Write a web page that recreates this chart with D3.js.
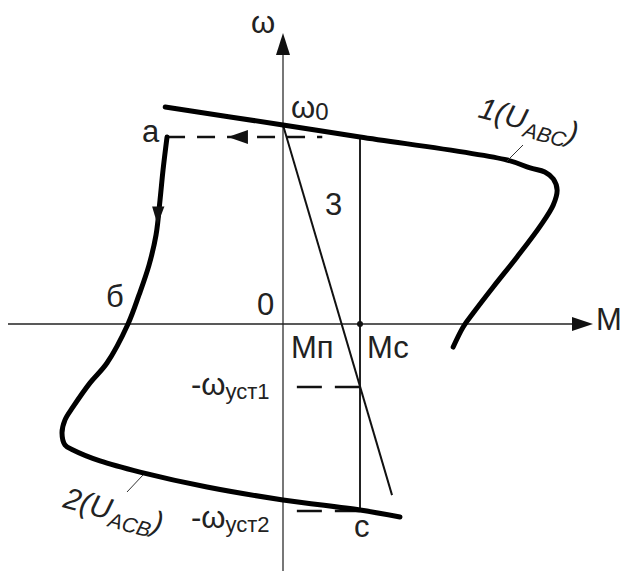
<!DOCTYPE html>
<html>
<head>
<meta charset="utf-8">
<script src="https://cdn.jsdelivr.net/npm/d3@7"></script>
<style>
  body { margin: 0; background: #fff; }
  text { font-family: "Liberation Sans", Arial, sans-serif; fill: #222; }
</style>
</head>
<body>
<div id="graph"></div>
<script>
const width = 622, height = 571;

// M in units of Mc, omega in units of omega0
const curve1 = [
    [-1.53, 1.09], [0, 1.0], [1, 0.94], [2.91, 0.824], [3.21, 0.784], [3.40, 0.764],
    [3.51, 0.729], [3.56, 0.673], [3.51, 0.598], [3.34, 0.492], [3.04, 0.337],
    [2.73, 0.186], [2.47, 0.055], [2.34, -0.015], [2.21, -0.116]
];
const curve2 = [
    [-1.506, 0.94], [-1.558, 0.774], [-1.597, 0.623], [-1.649, 0.447], [-1.74, 0.296],
    [-1.87, 0.146], [-2.013, 0], [-2.286, -0.196], [-2.506, -0.296], [-2.727, -0.417],
    [-2.831, -0.482], [-2.87, -0.548], [-2.831, -0.608], [-2.727, -0.633], [-2.377, -0.688],
    [-1.857, -0.744], [-0.987, -0.819], [0, -0.884], [1, -0.935], [1.519, -0.97]
];
const line3 = [[0, 1.0], [1.416, -0.86]];
const Mc = 1;
const wStart = 0.94;      // level of point a
const wUst1 = -0.317;
const wUst2 = -0.94;

let x = d3.scaleLinear().domain([0, 1]).range([283, 360]);
let y = d3.scaleLinear().domain([0, 1]).range([324, 125]);

let svg = d3.select("#graph")
    .append("svg")
    .attr("width", width)
    .attr("height", height);

let line = d3.line()
    .curve(d3.curveCatmullRom)
    .x(function(d) { return x(d[0]); })
    .y(function(d) { return y(d[1]); });

// axes
svg.append("line")
    .attr("x1", x(0)).attr("x2", x(0))
    .attr("y1", height).attr("y2", 50)
    .attr("stroke", "#777").attr("stroke-width", 2);
svg.append("path")
    .attr("d", `M${x(0)},33 L${x(0) - 7},55 L${x(0) + 7},55 Z`)
    .attr("fill", "#111");

svg.append("line")
    .attr("x1", 8).attr("x2", 578)
    .attr("y1", y(0)).attr("y2", y(0))
    .attr("stroke", "#222").attr("stroke-width", 1.5);
svg.append("path")
    .attr("d", `M593,${y(0)} L572,${y(0) - 7} L572,${y(0) + 7} Z`)
    .attr("fill", "#111");

// Mc vertical
svg.append("line")
    .attr("x1", x(Mc)).attr("x2", x(Mc))
    .attr("y1", y(wStart)).attr("y2", y(-0.935))
    .attr("stroke", "#222").attr("stroke-width", 2);
svg.append("circle")
    .attr("cx", x(Mc)).attr("cy", y(0)).attr("r", 3)
    .attr("fill", "#111");

// dashed lines
svg.append("line")
    .attr("x1", x(-1.506)).attr("x2", x(0.51))
    .attr("y1", y(wStart)).attr("y2", y(wStart))
    .attr("stroke", "#111").attr("stroke-width", 2.5)
    .attr("stroke-dasharray", "18,12");
svg.append("path")
    .attr("d", `M${x(-0.715)},${y(wStart)} L${x(-0.455)},${y(wStart) - 7} L${x(-0.455)},${y(wStart) + 7} Z`)
    .attr("fill", "#111");

svg.append("line")
    .attr("x1", x(0.18)).attr("x2", x(Mc))
    .attr("y1", y(wUst1)).attr("y2", y(wUst1))
    .attr("stroke", "#111").attr("stroke-width", 2.5)
    .attr("stroke-dasharray", "25,13");
svg.append("line")
    .attr("x1", x(0.18)).attr("x2", x(Mc))
    .attr("y1", y(wUst2)).attr("y2", y(wUst2))
    .attr("stroke", "#111").attr("stroke-width", 2.5)
    .attr("stroke-dasharray", "25,13");

// line 3
svg.append("path")
    .datum(line3)
    .attr("fill", "none")
    .attr("stroke", "#111")
    .attr("stroke-width", 2)
    .attr("d", d3.line().x(function(d) { return x(d[0]); }).y(function(d) { return y(d[1]); }));

// characteristics
svg.append("path")
    .datum(curve1)
    .attr("fill", "none")
    .attr("stroke", "#000")
    .attr("stroke-width", 5)
    .attr("stroke-linecap", "round")
    .attr("d", line);

svg.append("path")
    .datum(curve2)
    .attr("fill", "none")
    .attr("stroke", "#000")
    .attr("stroke-width", 5)
    .attr("stroke-linecap", "round")
    .attr("stroke-linejoin", "round")
    .attr("d", line);

// arrow on curve 2
svg.append("path")
    .attr("d", `M${x(-1.63)},${y(0.50)} L${x(-1.70)},${y(0.59)} L${x(-1.54)},${y(0.59)} Z`)
    .attr("fill", "#111");

// leader lines
svg.append("line")
    .attr("x1", 523).attr("y1", 145).attr("x2", 507).attr("y2", 161)
    .attr("stroke", "#333").attr("stroke-width", 1);
svg.append("line")
    .attr("x1", 127).attr("y1", 492).attr("x2", 143).attr("y2", 475)
    .attr("stroke", "#333").attr("stroke-width", 1);

// labels
const fs = 31;
function label(tx, ty, txt) {
    return svg.append("text")
        .attr("x", tx).attr("y", ty)
        .style("font-size", fs + "px")
        .text(txt);
}
label(251, 33, "ω");
let w0 = label(291, 118, "ω");
w0.append("tspan").attr("dy", 2).style("font-size", "24px").text("0");
label(142, 142, "a");
label(325, 215, "3");
label(106, 307, "б");
label(257, 315, "0");
label(291, 358, "Мп");
label(367, 358, "Мс");
label(596, 330, "М");

let u1 = label(191, 395, "-ω");
u1.append("tspan").attr("dy", 4).style("font-size", "22px").text("уст1");
let u2 = label(191, 528, "-ω");
u2.append("tspan").attr("dy", 4).style("font-size", "22px").text("уст2");
label(354, 537, "c");

let t1 = svg.append("text")
    .attr("transform", "translate(477,117) rotate(15)")
    .style("font-size", "30px")
    .style("font-style", "italic");
t1.append("tspan").text("1(U");
t1.append("tspan").attr("dy", 7).style("font-size", "21px").text("ABC");
t1.append("tspan").attr("dy", -7).text(")");

let t2 = svg.append("text")
    .attr("transform", "translate(62,507) rotate(15)")
    .style("font-size", "30px")
    .style("font-style", "italic");
t2.append("tspan").text("2(U");
t2.append("tspan").attr("dy", 7).style("font-size", "21px").text("ACB");
t2.append("tspan").attr("dy", -7).text(")");
</script>
</body>
</html>
